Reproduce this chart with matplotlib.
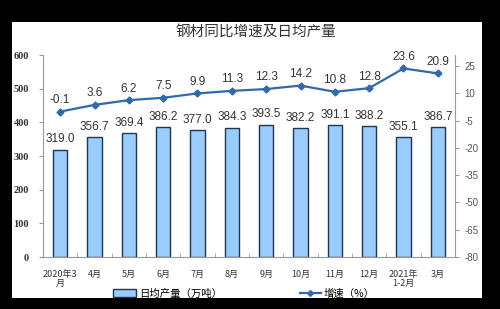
import numpy as np
import matplotlib
matplotlib.use("Agg")
import matplotlib.pyplot as plt
from matplotlib.patches import Rectangle, Patch
from matplotlib.lines import Line2D

plt.rcParams['font.family'] = ['Liberation Sans', 'Noto Sans CJK SC', 'DejaVu Sans']

# ---- data ----
months = ["2020年3\n月", "4月", "5月", "6月", "7月", "8月", "9月",
          "10月", "11月", "12月", "2021年\n1-2月", "3月"]
daily_output = [319.0, 356.7, 369.4, 386.2, 377.0, 384.3, 393.5,
                382.2, 391.1, 388.2, 355.1, 386.7]
growth = [-0.1, 3.6, 6.2, 7.5, 9.9, 11.3, 12.3, 14.2, 10.8, 12.8, 23.6, 20.9]
left_ticks = [0, 100, 200, 300, 400, 500, 600]
right_ticks = [-80, -65, -50, -35, -20, -5, 10, 25]

BAR_FACE = "#99CCFF"
BAR_EDGE = "#1F3550"
LINE_COLOR = "#2F6AAE"
TXT = "#333333"

fig = plt.figure(figsize=(5, 3.09), dpi=100)
fig.patch.set_facecolor("black")
# white panel inside the black frame
fig.patches.append(Rectangle((0.024, 0.036), 0.94, 0.893, transform=fig.transFigure,
                             facecolor="white", edgecolor="none", zorder=-10))

ax = fig.add_axes([0.086, 0.168, 0.824, 0.654])
ax.set_facecolor("none")
x = np.arange(len(months))
ax.bar(x, daily_output, width=0.41, color=BAR_FACE, edgecolor=BAR_EDGE, linewidth=1.0, zorder=2)
for xi, v in zip(x, daily_output):
    ax.annotate(f"{v:.1f}", (xi, v), xytext=(0, 3), textcoords="offset points",
                ha="center", va="bottom", fontsize=8.5, color=TXT)

ax.set_xlim(-0.5, len(months) - 0.5)
ax.set_ylim(0, 600)
ax.set_yticks(left_ticks)
ax.set_yticklabels([str(t) for t in left_ticks], family="Liberation Serif",
                   fontsize=7.5, fontweight="bold", color=TXT)
ax.set_xticks(x)
ax.set_xticklabels(months, fontsize=6.5, color=TXT, linespacing=1.1,
                   family=["Noto Sans CJK SC"])
ax.tick_params(axis="x", length=0, pad=9)
ax.set_xticks(np.arange(-0.5, len(months), 1), minor=True)
ax.tick_params(axis="x", which="minor", length=3, color="#999999", direction="in")
ax.tick_params(axis="y", length=3, color="#999999", pad=7)
for s in ["top", "right"]:
    ax.spines[s].set_visible(False)
ax.spines["left"].set_color("#999999")
ax.spines["bottom"].set_color("#999999")

ax2 = ax.twinx()
ax2.plot(x, growth, color=LINE_COLOR, linewidth=1.6, marker="D", markersize=3.5, zorder=3)
for xi, v in zip(x, growth):
    ax2.annotate(f"{v:.1f}", (xi, v), xytext=(0, 4), textcoords="offset points",
                 ha="center", va="bottom", fontsize=8.5, color=TXT)
ax2.set_ylim(-80, 31)
ax2.set_yticks(right_ticks)
ax2.set_yticklabels([str(t) for t in right_ticks], fontsize=7, color="#555555")
ax2.tick_params(axis="y", length=3, color="#999999", pad=4)
for s in ["top", "left", "bottom"]:
    ax2.spines[s].set_visible(False)
ax2.spines["right"].set_color("#999999")

fig.text(0.512, 0.897, "钢材同比增速及日均产量", ha="center", va="center",
         fontsize=10.5, color=TXT, family=["Noto Sans CJK SC"])

# two separate legend entries, placed like the original
leg_font = {"family": "Noto Sans CJK SC", "size": 7.5}
fig.legend([Patch(facecolor=BAR_FACE, edgecolor=BAR_EDGE, linewidth=1.0)],
           ["日均产量（万吨）"], loc="center left", bbox_to_anchor=(0.226, 0.05),
           frameon=False, prop=leg_font, borderpad=0, borderaxespad=0,
           handlelength=2.2, handletextpad=0.3)
fig.legend([Line2D([0], [0], color=LINE_COLOR, linewidth=1.6, marker="D", markersize=3)],
           ["增速（%）"], loc="center left", bbox_to_anchor=(0.6, 0.05),
           frameon=False, prop=leg_font, borderpad=0, borderaxespad=0,
           handlelength=2.0, handletextpad=0.3)

fig.savefig("out.png", dpi=100, facecolor=fig.get_facecolor())
